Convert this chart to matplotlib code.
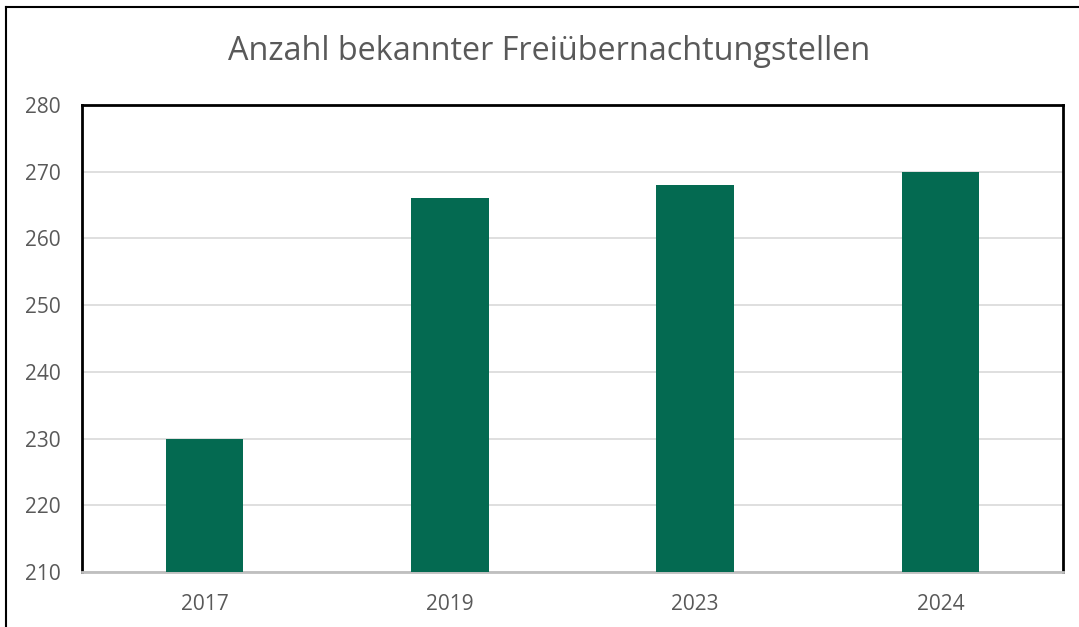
import matplotlib.pyplot as plt
from matplotlib.lines import Line2D

years = ['2017', '2019', '2023', '2024']
counts = [230, 266, 268, 270]
yticks = [210, 220, 230, 240, 250, 260, 270, 280]

plt.rcParams['font.family'] = ['Open Sans', 'DejaVu Sans']

fig = plt.figure(figsize=(10.79, 6.27), dpi=100)
ax = fig.add_axes([82 / 1079, 1 - 572 / 627, (1063 - 82) / 1079, (572 - 105) / 627])

x = range(len(years))
ax.bar(x, counts, width=0.315, color='#046A51', zorder=3)
ax.set_xlim(-0.5, len(years) - 0.5)
ax.set_ylim(210, 280)
ax.set_yticks(yticks)
ax.set_xticks(list(x))
ax.set_xticklabels(years)
ax.grid(axis='y', color='#D9D9D9', linewidth=1.2, zorder=0)
ax.tick_params(length=0, labelsize=15, colors='#595959')
ax.tick_params(axis='y', pad=15.5)
ax.tick_params(axis='x', pad=16)

for side in ['left', 'top', 'right']:
    ax.spines[side].set_color('black')
    ax.spines[side].set_linewidth(2)
ax.spines['bottom'].set_color('#BFBFBF')
ax.spines['bottom'].set_linewidth(2)

fig.text(549.5 / 1079, 1 - 52 / 627, 'Anzahl bekannter Freiübernachtungstellen',
         ha='center', va='center', fontsize=23.3, color='#595959')

# outer chart border (left and top visible)
fig.add_artist(Line2D([6 / 1079, 6 / 1079], [0, 1 - 7 / 627], transform=fig.transFigure, color='black', linewidth=1.5))
fig.add_artist(Line2D([6 / 1079, 1], [1 - 7 / 627, 1 - 7 / 627], transform=fig.transFigure, color='black', linewidth=1.5))

fig.savefig('out.png', dpi=100)
